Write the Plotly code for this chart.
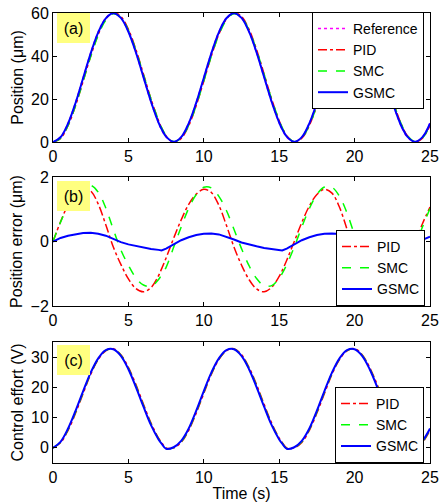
import plotly.graph_objects as go

# ---------------- data ----------------
time_s = [0, 0.5, 1, 1.5, 2, 2.5, 3, 3.5, 4, 4.5, 5, 5.5, 6, 6.5, 7, 7.2, 7.5, 8,
          8.5, 9, 9.5, 10, 10.5, 11, 11.5, 12, 12.5, 13, 13.5, 14, 14.5, 15, 15.2, 15.5, 16,
          16.5, 17, 17.5, 18, 18.5, 19, 19.5, 20, 20.5, 21, 21.5, 22, 22.5, 23, 23.2, 23.5, 24,
          24.5, 25]

reference_pos = [0, 2.3, 8.8, 18.5, 30, 41.5, 51.2, 57.7, 60, 57.7, 51.2, 41.5, 30, 18.5, 8.8, 5.7, 2.3, 0,
                 2.3, 8.8, 18.5, 30, 41.5, 51.2, 57.7, 60, 57.7, 51.2, 41.5, 30, 18.5, 8.8, 5.7, 2.3, 0,
                 2.3, 8.8, 18.5, 30, 41.5, 51.2, 57.7, 60, 57.7, 51.2, 41.5, 30, 18.5, 8.8, 5.7, 2.3, 0,
                 2.3, 8.8]

pid_err = [0, 0.61, 1.14, 1.51, 1.67, 1.57, 1.16, 0.52, -0.17, -0.71, -1.16, -1.46, -1.56, -1.43, -1.06, -0.85, -0.51, 0.1,
           0.67, 1.15, 1.47, 1.62, 1.52, 1.12, 0.5, -0.17, -0.73, -1.18, -1.47, -1.56, -1.42, -1.08, -0.9, -0.58, 0.0,
           0.59, 1.1, 1.46, 1.62, 1.5, 1.06, 0.38, -0.28, -0.8, -1.21, -1.48, -1.56, -1.43, -1.1, -0.92, -0.62, -0.06,
           0.55, 1.07]

smc_err = [0, 0.6, 1.1, 1.45, 1.69, 1.74, 1.53, 1.04, 0.37, -0.26, -0.74, -1.13, -1.35, -1.39, -1.18, -1.03, -0.8, -0.18,
           0.45, 1.03, 1.46, 1.68, 1.66, 1.4, 0.96, 0.38, -0.22, -0.75, -1.15, -1.37, -1.37, -1.14, -0.99, -0.72, -0.17,
           0.45, 1.02, 1.46, 1.69, 1.68, 1.4, 0.88, 0.21, -0.36, -0.83, -1.19, -1.38, -1.37, -1.14, -0.99, -0.72, -0.17,
           0.45, 1.02]

gsmc_err = [0, 0.11, 0.18, 0.23, 0.26, 0.27, 0.24, 0.18, 0.08, -0.02, -0.09, -0.14, -0.19, -0.23, -0.26, -0.28, -0.22, -0.09,
            0.04, 0.13, 0.2, 0.24, 0.25, 0.22, 0.15, 0.06, -0.03, -0.1, -0.15, -0.2, -0.24, -0.27, -0.28, -0.22, -0.09,
            0.04, 0.13, 0.2, 0.24, 0.25, 0.23, 0.16, 0.07, -0.02, -0.09, -0.15, -0.2, -0.24, -0.27, -0.28, -0.22, -0.09,
            0.05, 0.15]

pid_u = [0, 1.7, 5.8, 11.5, 18.0, 24.3, 29.2, 32.1, 32.8, 30.8, 26.6, 20.9, 14.4, 8.2, 3.2, 1.8, 0.0, 0.0,
         1.8, 5.8, 11.5, 18.0, 24.3, 29.2, 32.1, 32.8, 30.8, 26.6, 20.9, 14.4, 8.2, 3.2, 1.8, 0.0, 0.0,
         1.8, 5.8, 11.5, 18.0, 24.3, 29.2, 32.1, 32.8, 30.8, 26.6, 20.9, 14.4, 8.2, 3.2, 1.8, 0.0, 0.0,
         1.8, 5.8]

smc_u = [0, 1.85, 6.1, 11.9, 18.4, 24.6, 29.4, 32.2, 32.7, 30.6, 26.3, 20.5, 14.0, 7.85, 3.0, 1.6, -0.2, 0.1,
         2.0, 6.1, 11.9, 18.4, 24.6, 29.4, 32.2, 32.7, 30.6, 26.3, 20.5, 14.0, 7.85, 3.0, 1.6, -0.2, 0.1,
         2.0, 6.1, 11.9, 18.4, 24.6, 29.4, 32.2, 32.7, 30.6, 26.3, 20.5, 14.0, 7.85, 3.0, 1.6, -0.2, 0.1,
         2.0, 6.1]

gsmc_u = [0, 2.0, 6.4, 12.3, 18.8, 24.9, 29.6, 32.3, 32.6, 30.4, 26.0, 20.1, 13.6, 7.5, 2.8, 1.4, -0.3, 0.2,
          2.3, 6.4, 12.3, 18.8, 24.9, 29.6, 32.3, 32.6, 30.4, 26.0, 20.1, 13.6, 7.5, 2.8, 1.4, -0.3, 0.2,
          2.3, 6.4, 12.3, 18.8, 24.9, 29.6, 32.3, 32.6, 30.4, 26.0, 20.1, 13.6, 7.5, 2.8, 1.4, -0.3, 0.2,
          2.3, 6.4]

# measured position = reference - tracking error
pid_pos = [r - e for r, e in zip(reference_pos, pid_err)]
smc_pos = [r - e for r, e in zip(reference_pos, smc_err)]
gsmc_pos = [r - e for r, e in zip(reference_pos, gsmc_err)]

x_ticks = [0, 5, 10, 15, 20, 25]
panel_labels = ["(a)", "(b)", "(c)"]

# ---------------- figure ----------------
FONT = "Liberation Sans, Arial, Helvetica, sans-serif"
FS = 16
RED, GREEN, BLUE, MAG = "#ff0000", "#00ff00", "#0000ff", "#ff00ff"

fig = go.Figure()

def add(x, y, name, color, dash, width, xa, ya, leg, shape="spline"):
    fig.add_trace(go.Scatter(x=x, y=y, name=name, mode="lines",
                             line=dict(color=color, dash=dash, width=width, shape=shape),
                             xaxis=xa, yaxis=ya, legend=leg))

# panel (a)
add(time_s, reference_pos, "Reference", MAG, "dot", 1.5, "x", "y", "legend")
add(time_s, pid_pos, "PID", RED, "dashdot", 1.5, "x", "y", "legend")
add(time_s, smc_pos, "SMC", GREEN, "dash", 1.5, "x", "y", "legend")
add(time_s, gsmc_pos, "GSMC", BLUE, "solid", 2, "x", "y", "legend")
# panel (b)
add(time_s, pid_err, "PID", RED, "dashdot", 1.5, "x2", "y2", "legend2")
add(time_s, smc_err, "SMC", GREEN, "dash", 1.5, "x2", "y2", "legend2")
add(time_s, gsmc_err, "GSMC", BLUE, "solid", 2, "x2", "y2", "legend2", shape="linear")
# panel (c)
add(time_s, pid_u, "PID", RED, "dashdot", 1.5, "x3", "y3", "legend3")
add(time_s, smc_u, "SMC", GREEN, "dash", 1.5, "x3", "y3", "legend3")
add(time_s, gsmc_u, "GSMC", BLUE, "solid", 2, "x3", "y3", "legend3")

H_TOP, H_BOT = 13, 39
plot_h = 502 - H_TOP - H_BOT

def frac(p):
    return (502 - H_BOT - p) / plot_h

tfont = dict(size=FS, color="black", family=FONT)
axis_common = dict(showline=True, linecolor="black", linewidth=1, mirror="ticks",
                   ticks="inside", ticklen=4, tickcolor="black", showgrid=False, zeroline=False,
                   tickfont=tfont, automargin=False)

xa = dict(axis_common, range=[0, 25], tickvals=x_ticks)
fig.update_layout(
    xaxis=dict(xa, domain=[0, 1], anchor="y"),
    xaxis2=dict(xa, domain=[0, 1], anchor="y2"),
    xaxis3=dict(xa, domain=[0, 1], anchor="y3",
                title=dict(text="Time (s)", font=tfont, standoff=0)),
    yaxis=dict(axis_common, range=[0, 60], tickvals=[0, 20, 40, 60], domain=[frac(142), frac(13)],
               anchor="x", title=dict(text="Position (μm)", font=tfont, standoff=3)),
    yaxis2=dict(axis_common, range=[-2, 2], tickvals=[-2, 0, 2], domain=[frac(306), frac(177)],
                anchor="x2", title=dict(text="Position error (μm)", font=tfont, standoff=3)),
    yaxis3=dict(axis_common, range=[-5, 35], tickvals=[0, 10, 20, 30], domain=[frac(463), frac(342)],
                anchor="x3", title=dict(text="Control effort (V)", font=tfont, standoff=3)),
)

leg_common = dict(bgcolor="white", bordercolor="black", borderwidth=1,
                  font=dict(size=14, color="black", family=FONT), xanchor="right",
                  tracegroupgap=0, itemwidth=30)
fig.update_layout(
    legend=dict(leg_common, x=(424 - 53) / 377, y=frac(12), yanchor="top"),
    legend2=dict(leg_common, x=(425 - 53) / 377, y=frac(306), yanchor="bottom"),
    legend3=dict(leg_common, x=(424 - 53) / 377, y=frac(463), yanchor="bottom"),
)

for lbl, xr, yr, ysh in zip(panel_labels, ["x", "x2", "x3"], ["y", "y2", "y3"], [0, -4, -3]):
    fig.add_annotation(text=lbl, xref=f"{xr} domain", yref=f"{yr} domain", x=0, y=1,
                       xanchor="left", yanchor="top", xshift=4, yshift=ysh, showarrow=False,
                       bgcolor="#ffff80", width=33, height=30, borderpad=0, borderwidth=0,
                       font=tfont)

fig.update_layout(width=440, height=502, margin=dict(l=53, r=10, t=H_TOP, b=H_BOT, autoexpand=False),
                  paper_bgcolor="white", plot_bgcolor="white", showlegend=True,
                  font=dict(family=FONT, color="black"))

fig.write_html("out.html", config={"displayModeBar": False},
               post_script="document.body.style.margin='0';document.body.style.padding='0';")
